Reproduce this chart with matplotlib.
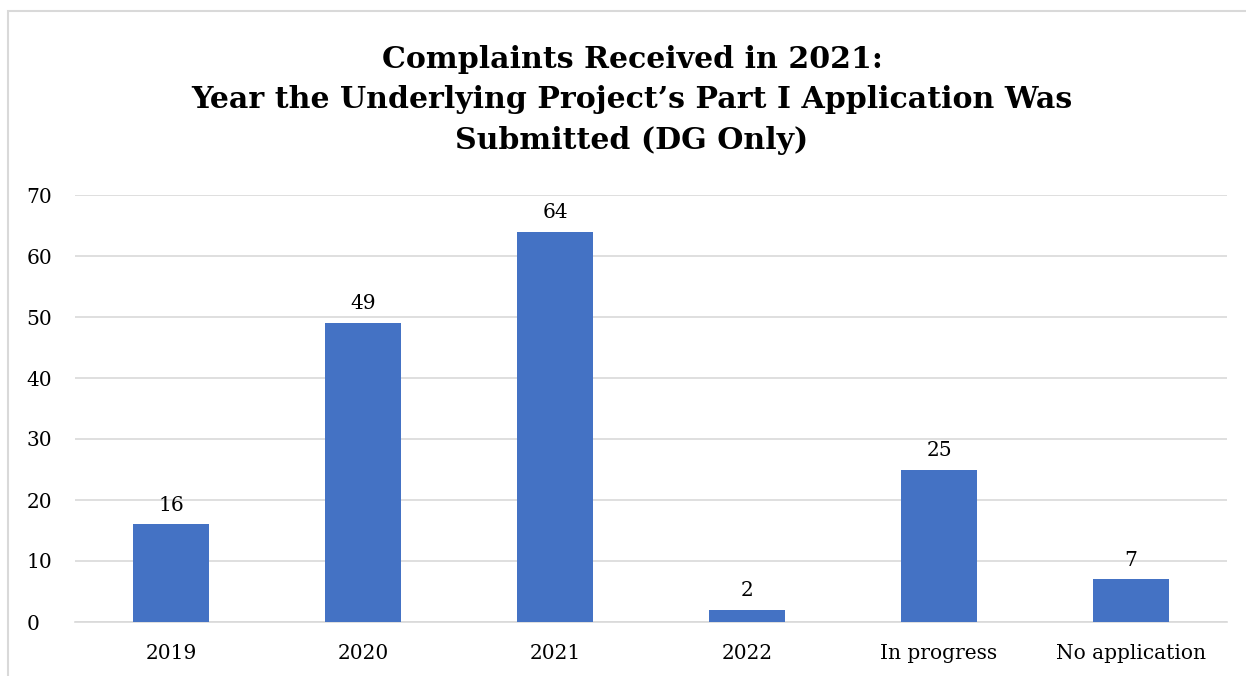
import matplotlib.pyplot as plt
from matplotlib.patches import Rectangle

# Chart data
categories = ['2019', '2020', '2021', '2022', 'In progress', 'No application']
complaints = [16, 49, 64, 2, 25, 7]

title = 'Complaints Received in 2021:\nYear the Underlying Project\u2019s Part I Application Was\nSubmitted (DG Only)'

plt.rcParams['font.family'] = ['DejaVu Serif']

W, H = 1246, 676
fig = plt.figure(figsize=(W / 100, H / 100), dpi=100)

# light frame around the chart
fig.patches.append(Rectangle((8 / W, -0.1), 1.2, (H - 11) / H + 0.1, transform=fig.transFigure,
                             fill=False, edgecolor='#d9d9d9', linewidth=1.5))

ax = fig.add_axes([75 / W, 54 / H, (1227 - 75) / W, (622 - 195) / H])

x = range(len(categories))
bars = ax.bar(x, complaints, width=0.4, color='#4472C4', zorder=3)
for b, v in zip(bars, complaints):
    ax.text(b.get_x() + b.get_width() / 2, v + 1.6, str(v), ha='center', va='bottom',
            fontsize=14.5, color='#000000')

ax.set_xlim(-0.5, len(categories) - 0.5)
ax.set_ylim(0, 70)
ax.set_yticks(range(0, 71, 10))
ax.set_xticks(list(x))
ax.set_xticklabels(categories)
ax.tick_params(axis='both', length=0, labelsize=14.5, colors='#000000')
ax.tick_params(axis='x', pad=16)
ax.tick_params(axis='y', pad=35)
for lbl in ax.get_yticklabels():
    lbl.set_horizontalalignment('left')

ax.yaxis.grid(True, color='#d9d9d9', linewidth=1.2, zorder=0)
for s in ['top', 'right', 'left']:
    ax.spines[s].set_visible(False)
ax.spines['bottom'].set_color('#d9d9d9')
ax.spines['bottom'].set_linewidth(1.2)

fig.text(632 / W, 1 - 100 / H, title, ha='center', va='center', fontsize=21.6,
         fontweight='bold', linespacing=1.48)

fig.savefig('out.png', dpi=100)
